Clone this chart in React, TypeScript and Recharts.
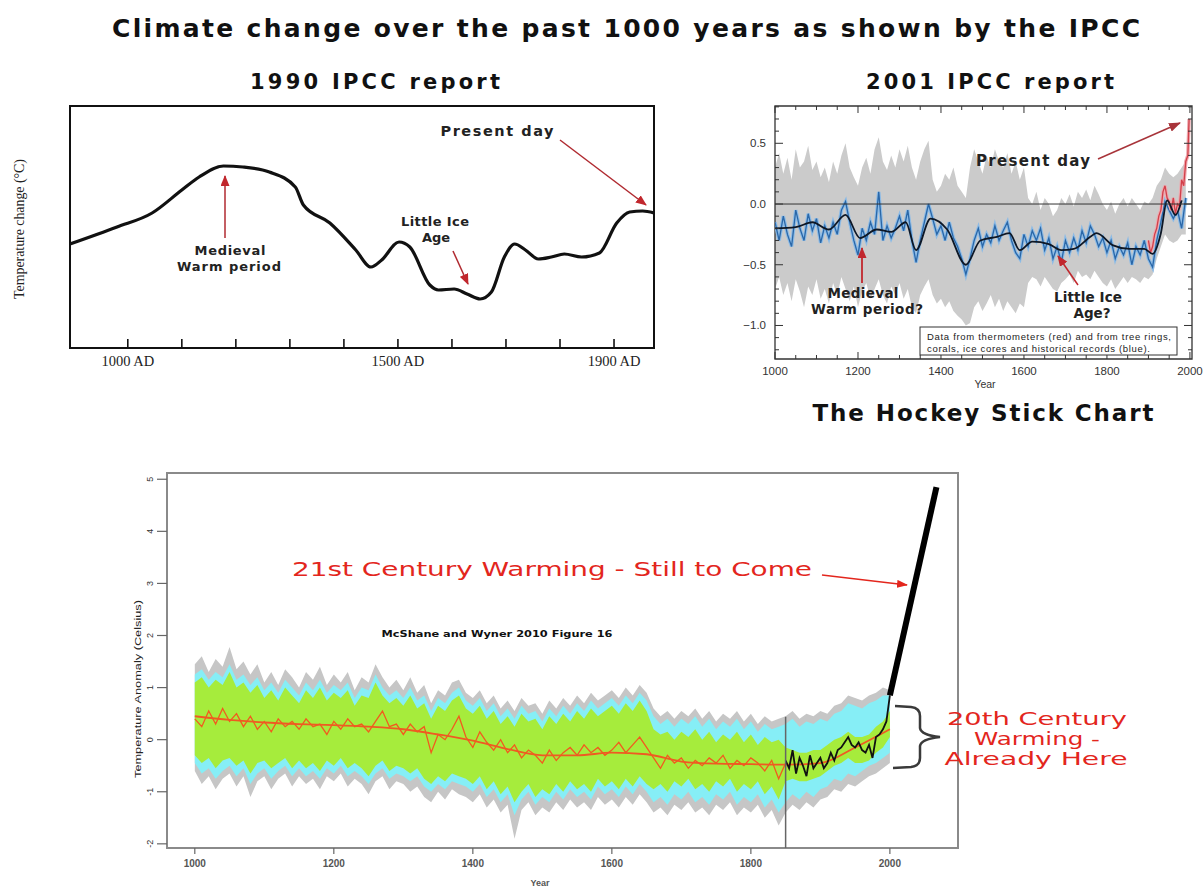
import React from 'react';
import { ComposedChart, Line, Area, XAxis, YAxis, ReferenceLine, ReferenceArea } from 'recharts';

// ---------- helpers ----------
const range = (a: number, b: number, s: number) => {
  const out: number[] = [];
  for (let v = a; v <= b + 1e-9; v += s) out.push(v);
  return out;
};
type Part = { years: number[]; cols: Record<string, number[]> };
const mergeRows = (parts: Part[], ranges: [string, string, string][]) => {
  const map = new Map<number, any>();
  parts.forEach((p) => {
    p.years.forEach((y, i) => {
      const r = map.get(y) ?? { year: y };
      Object.keys(p.cols).forEach((k) => {
        r[k] = p.cols[k][i];
      });
      map.set(y, r);
    });
  });
  const rows = [...map.values()].sort((a, b) => a.year - b.year);
  rows.forEach((r) => {
    ranges.forEach(([key, lo, hi]) => {
      if (r[lo] != null && r[hi] != null) r[key] = [r[lo], r[hi]];
    });
  });
  return rows;
};

// ---------- 1990 IPCC report (schematic) ----------
const ipcc1990Years = [893, 980, 1045, 1100, 1132, 1177, 1213, 1262, 1310, 1325, 1374, 1422, 1450, 1470, 1502, 1522, 1559, 1575, 1604, 1628, 1652, 1673, 1697, 1716, 1736, 1760, 1784, 1808, 1840, 1873, 1905, 1929, 1953, 1974];
const ipcc1990Temp = [-0.17, 0.0, 0.14, 0.37, 0.5, 0.61, 0.6, 0.55, 0.4, 0.22, 0.04, -0.23, -0.4, -0.33, -0.15, -0.2, -0.58, -0.63, -0.62, -0.67, -0.72, -0.65, -0.3, -0.17, -0.23, -0.32, -0.3, -0.27, -0.3, -0.26, 0.04, 0.15, 0.16, 0.14];
const ipcc1990Ticks = [1000, 1100, 1200, 1300, 1400, 1500, 1600, 1700, 1800, 1900];
const ipcc1990Labels = [1000, 1500, 1900];

// ---------- 2001 IPCC report (hockey stick) ----------
const hsYears = range(1000, 1990, 10);
const hsGreyHi = [
  0.30, 0.42, 0.25, 0.38, 0.20, 0.45, 0.30, 0.35, 0.48, 0.28,
  0.35, 0.22, 0.30, 0.18, 0.35, 0.25, 0.40, 0.50, 0.30, 0.22,
  0.15, 0.30, 0.38, 0.25, 0.45, 0.55, 0.35, 0.28, 0.40, 0.30,
  0.45, 0.35, 0.48, 0.30, 0.20, 0.35, 0.45, 0.52, 0.20, 0.10,
  0.15, 0.25, 0.20, 0.30, 0.15, 0.10, 0.05, 0.30, 0.45, 0.35,
  0.25, 0.40, 0.30, 0.45, 0.35, 0.30, 0.42, 0.25, 0.35, 0.20,
  0.30, 0.05, 0.00, 0.10, -0.05, 0.05, 0.00, -0.10, -0.05, 0.05,
  0.00, 0.08, -0.02, 0.10, 0.05, 0.12, 0.03, 0.15, 0.08, 0.00,
  -0.05, 0.02, -0.08, 0.00, 0.05, -0.02, 0.05, 0.00, -0.05, 0.02,
  0.00, 0.05, 0.15, 0.20, 0.30, 0.25, 0.22, 0.25, 0.30, 0.35,
];
const hsGreyLo = [
  -0.70, -0.60, -0.75, -0.65, -0.80, -0.62, -0.72, -0.85, -0.68, -0.75,
  -0.62, -0.78, -0.70, -0.82, -0.65, -0.75, -0.60, -0.70, -0.80, -0.68,
  -0.85, -0.72, -0.65, -0.78, -0.70, -0.62, -0.75, -0.82, -0.68, -0.75,
  -0.65, -0.78, -0.70, -0.85, -0.90, -0.75, -0.68, -0.62, -0.75, -0.82,
  -0.78, -0.85, -0.80, -0.88, -0.92, -0.95, -1.00, -0.98, -0.85, -0.80,
  -0.88, -0.82, -0.75, -0.85, -0.78, -0.88, -0.80, -0.85, -0.90, -0.82,
  -0.85, -0.65, -0.60, -0.62, -0.68, -0.60, -0.65, -0.70, -0.72, -0.65,
  -0.62, -0.58, -0.65, -0.55, -0.60, -0.58, -0.62, -0.55, -0.60, -0.65,
  -0.68, -0.62, -0.70, -0.65, -0.60, -0.65, -0.60, -0.62, -0.65, -0.60,
  -0.62, -0.58, -0.45, -0.35, -0.25, -0.30, -0.32, -0.30, -0.25, -0.25,
];
const hsBlue = [
  -0.15, -0.30, -0.10, -0.25, -0.35, -0.05, -0.20, -0.30, -0.08, -0.22,
  -0.12, -0.32, -0.18, -0.28, -0.15, -0.25, -0.05, 0.02, -0.15, -0.30,
  -0.42, -0.20, -0.30, -0.15, -0.25, 0.10, -0.30, -0.18, -0.28, -0.20,
  -0.10, -0.22, -0.05, -0.30, -0.48, -0.30, -0.15, 0.00, -0.12, -0.25,
  -0.18, -0.30, -0.15, -0.28, -0.35, -0.45, -0.58, -0.45, -0.30, -0.20,
  -0.35, -0.25, -0.32, -0.18, -0.30, -0.22, -0.15, -0.30, -0.40, -0.45,
  -0.25, -0.35, -0.22, -0.30, -0.20, -0.38, -0.28, -0.45, -0.35, -0.48,
  -0.30, -0.40, -0.28, -0.38, -0.22, -0.32, -0.18, -0.25, -0.35, -0.28,
  -0.40, -0.30, -0.45, -0.35, -0.42, -0.32, -0.50, -0.35, -0.42, -0.30,
  -0.45, -0.52, -0.30, -0.15, 0.02, -0.05, -0.12, -0.05, -0.20, 0.05,
];
const hsSmoothYears = [1000, 1050, 1090, 1130, 1170, 1205, 1245, 1280, 1315, 1340, 1375, 1415, 1460, 1495, 1535, 1565, 1590, 1620, 1660, 1690, 1720, 1760, 1775, 1815, 1855, 1890, 1910, 1930, 1945, 1965, 1980];
const hsSmooth = [-0.2, -0.19, -0.15, -0.21, -0.09, -0.28, -0.21, -0.23, -0.15, -0.38, -0.12, -0.21, -0.5, -0.3, -0.27, -0.24, -0.38, -0.31, -0.33, -0.38, -0.37, -0.27, -0.24, -0.34, -0.37, -0.37, -0.41, -0.24, 0.03, -0.09, 0.03];
const hsRedYears = [1900, 1905, 1910, 1915, 1920, 1925, 1930, 1935, 1940, 1945, 1950, 1955, 1960, 1965, 1970, 1975, 1980, 1985, 1990, 1995, 1998];
const hsRed = [-0.3, -0.4, -0.35, -0.25, -0.2, -0.1, -0.05, 0.1, 0.15, 0.05, 0.02, -0.05, 0.05, -0.08, 0.0, -0.02, 0.2, 0.15, 0.35, 0.4, 0.7];
const hsXTicks = [1000, 1050, 1100, 1150, 1200, 1250, 1300, 1350, 1400, 1450, 1500, 1550, 1600, 1650, 1700, 1750, 1800, 1850, 1900, 1950, 2000];
const hsYTicks = [-1.2, -1.1, -1.0, -0.9, -0.8, -0.7, -0.6, -0.5, -0.4, -0.3, -0.2, -0.1, 0.0, 0.1, 0.2, 0.3, 0.4, 0.5, 0.6, 0.7, 0.8];

// ---------- McShane and Wyner 2010 ----------
const mwYears = range(1000, 2000, 10);
const mwGreyHi = [
  1.45, 1.60, 1.30, 1.55, 1.40, 1.78, 1.35, 1.50, 1.25, 1.45,
  1.10, 1.30, 1.05, 1.35, 1.20, 1.00, 1.30, 1.15, 1.40, 1.05,
  1.25, 1.10, 1.30, 0.95, 1.20, 1.10, 1.45, 1.20, 1.00, 1.15,
  0.95, 1.20, 0.90, 1.05, 0.70, 0.95, 0.85, 1.10, 1.15, 0.90,
  0.80, 0.95, 0.70, 0.85, 0.60, 0.75, 0.55, 0.80, 0.65, 0.70,
  0.50, 0.75, 0.60, 0.80, 0.65, 0.85, 0.70, 0.90, 0.75, 0.85,
  0.95, 0.80, 1.00, 0.85, 1.05, 0.90, 0.60, 0.45, 0.55, 0.40,
  0.55, 0.45, 0.60, 0.40, 0.55, 0.35, 0.50, 0.40, 0.55, 0.35,
  0.50, 0.30, 0.45, 0.35, 0.40, 0.45, 0.55, 0.40, 0.50, 0.45,
  0.55, 0.50, 0.65, 0.70, 0.85, 0.80, 0.75, 0.85, 0.90, 1.00,
  0.95,
];
const mwGreyLo = [
  -0.60, -0.85, -0.70, -0.95, -0.75, -0.65, -0.90, -0.70, -1.10, -0.80,
  -0.70, -0.95, -0.75, -0.65, -0.90, -0.70, -0.85, -0.75, -0.95, -0.70,
  -0.80, -0.65, -0.90, -0.75, -0.85, -1.05, -0.80, -0.70, -0.95, -0.80,
  -0.85, -1.00, -0.90, -1.10, -1.20, -1.00, -1.15, -0.95, -1.05, -1.10,
  -1.20, -1.05, -1.30, -1.15, -1.40, -1.25, -1.90, -1.35, -1.20, -1.45,
  -1.30, -1.40, -1.20, -1.35, -1.15, -1.30, -1.20, -1.35, -1.10, -1.25,
  -1.15, -1.30, -1.10, -1.25, -1.05, -1.20, -1.40, -1.30, -1.45, -1.25,
  -1.35, -1.20, -1.40, -1.30, -1.45, -1.25, -1.35, -1.20, -1.45, -1.30,
  -1.40, -1.25, -1.50, -1.35, -1.65, -1.40, -1.25, -1.35, -1.20, -1.30,
  -1.15, -1.10, -0.95, -1.00, -0.85, -0.90, -0.80, -0.70, -0.65, -0.55,
  -0.45,
];
const mwCyanHi = [
  1.25, 1.35, 1.15, 1.30, 1.20, 1.45, 1.15, 1.25, 1.05, 1.20,
  0.95, 1.10, 0.90, 1.15, 1.00, 0.85, 1.10, 0.95, 1.15, 0.90,
  1.05, 0.95, 1.10, 0.80, 1.00, 0.95, 1.25, 1.00, 0.85, 0.95,
  0.80, 1.00, 0.75, 0.85, 0.55, 0.80, 0.70, 0.90, 1.00, 0.75,
  0.65, 0.80, 0.55, 0.70, 0.45, 0.60, 0.40, 0.65, 0.50, 0.55,
  0.35, 0.60, 0.45, 0.65, 0.50, 0.70, 0.55, 0.75, 0.60, 0.70,
  0.80, 0.65, 0.85, 0.70, 0.90, 0.75, 0.45, 0.30, 0.40, 0.25,
  0.40, 0.30, 0.45, 0.25, 0.40, 0.20, 0.35, 0.25, 0.40, 0.20,
  0.35, 0.15, 0.30, 0.20, 0.25, 0.30, 0.40, 0.25, 0.35, 0.30,
  0.40, 0.35, 0.50, 0.55, 0.70, 0.65, 0.60, 0.70, 0.75, 0.85,
  0.85,
];
const mwCyanLo = [
  -0.45, -0.65, -0.55, -0.75, -0.60, -0.50, -0.70, -0.55, -0.85, -0.65,
  -0.55, -0.75, -0.60, -0.50, -0.70, -0.55, -0.70, -0.60, -0.75, -0.55,
  -0.65, -0.50, -0.70, -0.60, -0.70, -0.85, -0.65, -0.55, -0.75, -0.65,
  -0.70, -0.80, -0.70, -0.90, -1.00, -0.85, -0.95, -0.80, -0.85, -0.90,
  -1.00, -0.85, -1.10, -0.95, -1.20, -1.05, -1.45, -1.15, -1.00, -1.25,
  -1.10, -1.20, -1.00, -1.15, -0.95, -1.10, -1.00, -1.15, -0.90, -1.05,
  -0.95, -1.10, -0.90, -1.05, -0.85, -1.00, -1.20, -1.10, -1.25, -1.05,
  -1.15, -1.00, -1.20, -1.10, -1.25, -1.05, -1.15, -1.00, -1.25, -1.10,
  -1.20, -1.05, -1.30, -1.15, -1.40, -1.20, -1.05, -1.15, -1.00, -1.10,
  -0.95, -0.90, -0.75, -0.80, -0.65, -0.70, -0.60, -0.50, -0.45, -0.35,
  -0.25,
];
const mwGreenHi = [
  1.10, 1.20, 1.00, 1.15, 1.05, 1.30, 1.00, 1.10, 0.90, 1.05,
  0.80, 0.95, 0.75, 1.00, 0.85, 0.70, 0.95, 0.80, 1.00, 0.75,
  0.90, 0.80, 0.95, 0.65, 0.85, 0.80, 1.10, 0.85, 0.70, 0.80,
  0.65, 0.85, 0.60, 0.70, 0.40, 0.65, 0.55, 0.75, 0.85, 0.60,
  0.50, 0.65, 0.40, 0.55, 0.30, 0.45, 0.25, 0.50, 0.35, 0.40,
  0.20, 0.45, 0.30, 0.50, 0.35, 0.55, 0.40, 0.60, 0.45, 0.55,
  0.65, 0.50, 0.70, 0.55, 0.75, 0.55, 0.20, 0.10, 0.15, 0.00,
  0.15, 0.05, 0.20, 0.00, 0.15, -0.05, 0.10, 0.00, 0.15, -0.05,
  0.10, -0.10, 0.05, -0.05, 0.00, -0.15, -0.20, -0.25, -0.25, -0.20,
  -0.20, -0.10, 0.00, 0.05, 0.15, 0.05, 0.05, 0.10, 0.25, 0.35,
  0.55,
];
const mwGreenLo = [
  -0.30, -0.45, -0.35, -0.55, -0.40, -0.35, -0.50, -0.40, -0.65, -0.45,
  -0.40, -0.55, -0.45, -0.35, -0.55, -0.40, -0.55, -0.45, -0.60, -0.40,
  -0.50, -0.35, -0.55, -0.45, -0.55, -0.70, -0.50, -0.40, -0.60, -0.50,
  -0.55, -0.65, -0.55, -0.75, -0.85, -0.70, -0.80, -0.65, -0.70, -0.75,
  -0.85, -0.70, -0.95, -0.80, -1.05, -0.90, -1.20, -1.00, -0.85, -1.10,
  -0.95, -1.05, -0.85, -1.00, -0.80, -0.95, -0.85, -1.00, -0.75, -0.90,
  -0.80, -0.95, -0.75, -0.90, -0.70, -0.85, -0.95, -0.85, -1.00, -0.80,
  -0.90, -0.75, -0.95, -0.85, -1.00, -0.80, -0.90, -0.75, -1.00, -0.85,
  -0.95, -0.80, -1.05, -0.90, -1.15, -0.80, -0.75, -0.80, -0.80, -0.75,
  -0.70, -0.60, -0.50, -0.45, -0.35, -0.45, -0.45, -0.40, -0.25, -0.15,
  0.05,
];
const mwOrangeYears = range(1000, 1850, 10);
const mwOrange = [
  0.40, 0.25, 0.55, 0.30, 0.60, 0.35, 0.50, 0.25, 0.45, 0.20,
  0.35, 0.15, 0.40, 0.25, 0.35, 0.20, 0.40, 0.25, 0.30, 0.10,
  0.35, 0.20, 0.40, 0.25, 0.30, 0.15, 0.35, 0.55, 0.25, 0.30,
  0.10, 0.30, 0.15, 0.25, -0.25, 0.10, 0.00, 0.20, 0.45, 0.05,
  -0.15, 0.15, -0.05, -0.20, 0.00, -0.25, -0.10, -0.35, -0.20, -0.30,
  -0.45, -0.20, -0.40, -0.25, -0.15, -0.30, -0.10, -0.25, -0.15, -0.30,
  -0.20, -0.05, -0.25, -0.10, 0.05, -0.15, -0.35, -0.55, -0.30, -0.45,
  -0.35, -0.55, -0.40, -0.50, -0.35, -0.45, -0.30, -0.55, -0.40, -0.50,
  -0.35, -0.45, -0.60, -0.40, -0.75, -0.45,
];
const mwSmoothYears = [1000, 1050, 1100, 1150, 1200, 1250, 1300, 1350, 1400, 1450, 1500, 1550, 1600, 1650, 1700, 1750, 1800, 1850, 1900, 1950, 2000];
const mwSmooth = [0.45, 0.38, 0.33, 0.3, 0.28, 0.25, 0.2, 0.1, -0.02, -0.18, -0.3, -0.3, -0.25, -0.28, -0.42, -0.46, -0.47, -0.48, -0.45, -0.15, 0.2];
const mwBlackYears = range(1850, 2000, 5);
const mwBlack = [-0.4, -0.55, -0.2, -0.65, -0.35, -0.5, -0.7, -0.3, -0.55, -0.45, -0.35, -0.55, -0.45, -0.25, -0.4, -0.2, -0.15, -0.05, 0.05, -0.1, -0.15, -0.05, -0.2, -0.25, -0.1, -0.35, 0.05, 0.1, 0.2, 0.35, 0.85];
const mwProjYears = [2000, 2067];
const mwProj = [0.85, 4.85];
const mwXTicks = [1000, 1200, 1400, 1600, 1800, 2000];
const mwYTicks = [-2, -1, 0, 1, 2, 3, 4, 5];

// ---------- merged tables ----------
const ipcc1990Data = mergeRows([{ years: ipcc1990Years, cols: { temp: ipcc1990Temp } }], []);
const hsData = mergeRows(
  [
    { years: hsYears, cols: { gLo: hsGreyLo, gHi: hsGreyHi, blue: hsBlue } },
    { years: hsSmoothYears, cols: { smooth: hsSmooth } },
    { years: hsRedYears, cols: { red: hsRed } },
  ],
  [['grey', 'gLo', 'gHi']]
);
const mwData = mergeRows(
  [
    { years: mwYears, cols: { gLo: mwGreyLo, gHi: mwGreyHi, cLo: mwCyanLo, cHi: mwCyanHi, nLo: mwGreenLo, nHi: mwGreenHi } },
    { years: mwOrangeYears, cols: { orange: mwOrange } },
    { years: mwSmoothYears, cols: { smooth: mwSmooth } },
    { years: mwBlackYears, cols: { black: mwBlack } },
    { years: mwProjYears, cols: { proj: mwProj } },
  ],
  [
    ['grey', 'gLo', 'gHi'],
    ['cyan', 'cLo', 'cHi'],
    ['green', 'nLo', 'nHi'],
  ]
);

const SANS = 'Liberation Sans, Arial, sans-serif';
const SERIF = 'Liberation Serif, Times New Roman, serif';
const WIDE = 'DejaVu Sans, Verdana, sans-serif';

// ---------- tick renderers ----------
const tick1990 = (p: any) => {
  const v = p.payload.value;
  return (
    <g>
      <line x1={p.x} x2={p.x} y1={348} y2={339} stroke="#111" strokeWidth={1.6} />
      {ipcc1990Labels.includes(v) && (
        <text x={p.x} y={361} textAnchor="middle" dominantBaseline="central" fontFamily={SERIF} fontSize={14.5} fill="#222">
          {v} AD
        </text>
      )}
    </g>
  );
};
const hsXTick = (p: any) => {
  const v = p.payload.value;
  const major = v % 200 === 0;
  return (
    <g>
      <line x1={p.x} x2={p.x} y1={359} y2={major ? 352 : 355} stroke="#333" strokeWidth={1} />
      <line x1={p.x} x2={p.x} y1={106} y2={major ? 113 : 110} stroke="#333" strokeWidth={1} />
      {major && (
        <text x={p.x} y={371} textAnchor="middle" dominantBaseline="central" fontFamily={SANS} fontSize={11.5} fill="#333">
          {v}
        </text>
      )}
    </g>
  );
};
const hsYTick = (p: any) => {
  const v = p.payload.value;
  const major = Math.abs(v * 2 - Math.round(v * 2)) < 1e-6;
  const label = (v < 0 ? '\u2212' : '') + Math.abs(v).toFixed(1);
  return (
    <g>
      <line x1={775} x2={major ? 783 : 779} y1={p.y} y2={p.y} stroke="#333" strokeWidth={1} />
      <line x1={1192} x2={major ? 1184 : 1188} y1={p.y} y2={p.y} stroke="#333" strokeWidth={1} />
      {major && (
        <text x={766} y={p.y} textAnchor="end" dominantBaseline="central" fontFamily={SANS} fontSize={11.5} fill="#333">
          {label}
        </text>
      )}
    </g>
  );
};
const mwXTick = (p: any) => (
  <g>
    <line x1={p.x} x2={p.x} y1={848} y2={854} stroke="#666" strokeWidth={1.2} />
    <text x={p.x} y={863} textAnchor="middle" dominantBaseline="central" fontFamily={SANS} fontWeight={700} fontSize={10} fill="#555">
      {p.payload.value}
    </text>
  </g>
);
const mwYTick = (p: any) => (
  <g>
    <line x1={157} x2={167} y1={p.y} y2={p.y} stroke="#666" strokeWidth={1.2} />
    <text transform={`translate(150, ${p.y}) rotate(-90)`} textAnchor="middle" dominantBaseline="central" fontFamily={SANS} fontSize={9} fill="#333">
      {p.payload.value}
    </text>
  </g>
);

const abs: React.CSSProperties = { position: 'absolute', left: 0, top: 0 };

const Txt = (props: any) => {
  const { children, ...rest } = props;
  return (
    <text dominantBaseline="central" textAnchor="middle" {...rest}>
      {children}
    </text>
  );
};

export default function App() {
  return (
    <div style={{ position: 'absolute', left: 0, top: 0, width: 1204, height: 889, background: '#fff', overflow: 'hidden' }}>
      {/* 1990 IPCC report */}
      <div style={abs}>
        <ComposedChart width={1204} height={889} data={ipcc1990Data} margin={{ top: 106, right: 550, bottom: 511, left: 70 }}>
          <XAxis dataKey="year" type="number" domain={[893, 1974]} ticks={ipcc1990Ticks} allowDataOverflow height={30} axisLine={false} tickLine={false} tick={tick1990} />
          <YAxis type="number" domain={[-1.21, 1.21]} allowDataOverflow hide width={0} />
          <Line dataKey="temp" type="monotone" stroke="#111" strokeWidth={3.2} dot={false} activeDot={false} isAnimationActive={false} />
          <ReferenceArea x1={893} x2={1974} y1={-1.21} y2={1.21} fill="none" stroke="#111" strokeWidth={2} ifOverflow="visible" />
        </ComposedChart>
      </div>

      {/* 2001 IPCC report */}
      <div style={abs}>
        <ComposedChart width={1204} height={889} data={hsData} margin={{ top: 106, right: 12, bottom: 500, left: 735 }}>
          <XAxis dataKey="year" type="number" domain={[1000, 2005]} ticks={hsXTicks} allowDataOverflow height={30} axisLine={false} tickLine={false} tick={hsXTick} interval={0} />
          <YAxis type="number" domain={[-1.276, 0.807]} ticks={hsYTicks} allowDataOverflow width={40} axisLine={false} tickLine={false} tick={hsYTick} interval={0} />
          <Area dataKey="grey" type="linear" fill="#cbcbcb" fillOpacity={1} stroke="none" connectNulls dot={false} activeDot={false} isAnimationActive={false} />
          <Line dataKey="blue" type="linear" stroke="#8cbbe6" strokeWidth={3.5} connectNulls dot={false} activeDot={false} isAnimationActive={false} />
          <Line dataKey="blue" type="linear" stroke="#2a67a8" strokeWidth={1.3} connectNulls dot={false} activeDot={false} isAnimationActive={false} />
          <Line dataKey="red" type="linear" stroke="#eeaab0" strokeWidth={3.5} connectNulls dot={false} activeDot={false} isAnimationActive={false} />
          <Line dataKey="red" type="linear" stroke="#d2404a" strokeWidth={1.3} connectNulls dot={false} activeDot={false} isAnimationActive={false} />
          <Line dataKey="smooth" type="monotone" stroke="#0d1726" strokeWidth={1.8} connectNulls dot={false} activeDot={false} isAnimationActive={false} />
          <ReferenceLine y={0} stroke="#333" strokeWidth={1} />
          <ReferenceArea x1={1000} x2={2005} y1={-1.276} y2={0.807} fill="none" stroke="#333" strokeWidth={1.3} ifOverflow="visible" />
        </ComposedChart>
      </div>

      {/* McShane and Wyner 2010 */}
      <div style={abs}>
        <ComposedChart width={1204} height={889} data={mwData} margin={{ top: 473, right: 246, bottom: 11, left: 127 }}>
          <XAxis dataKey="year" type="number" domain={[960, 2098]} ticks={mwXTicks} allowDataOverflow height={30} axisLine={false} tickLine={false} tick={mwXTick} interval={0} />
          <YAxis type="number" domain={[-2.08, 5.12]} ticks={mwYTicks} allowDataOverflow width={40} axisLine={false} tickLine={false} tick={mwYTick} interval={0} />
          <Area dataKey="grey" type="linear" fill="#c6c6c6" fillOpacity={1} stroke="none" connectNulls dot={false} activeDot={false} isAnimationActive={false} />
          <Area dataKey="cyan" type="linear" fill="#86eef6" fillOpacity={1} stroke="none" connectNulls dot={false} activeDot={false} isAnimationActive={false} />
          <Area dataKey="green" type="linear" fill="#a6ec3c" fillOpacity={1} stroke="none" connectNulls dot={false} activeDot={false} isAnimationActive={false} />
          <Line dataKey="orange" type="linear" stroke="#f25a1e" strokeWidth={1.3} connectNulls dot={false} activeDot={false} isAnimationActive={false} />
          <Line dataKey="smooth" type="monotone" stroke="#ef5a22" strokeWidth={1.8} connectNulls dot={false} activeDot={false} isAnimationActive={false} />
          <Line dataKey="black" type="linear" stroke="#111" strokeWidth={1.8} connectNulls dot={false} activeDot={false} isAnimationActive={false} />
          <Line dataKey="proj" type="linear" stroke="#000" strokeWidth={6} connectNulls dot={false} activeDot={false} isAnimationActive={false} />
          <ReferenceLine segment={[{ x: 1850, y: -2.08 }, { x: 1850, y: 0.44 }]} stroke="#666" strokeWidth={1.5} />
          <ReferenceArea x1={960} x2={2098} y1={-2.08} y2={5.12} fill="none" stroke="#8a8a8a" strokeWidth={2} ifOverflow="visible" />
        </ComposedChart>
      </div>

      {/* Titles, annotations */}
      <svg style={abs} width={1204} height={889}>
        <defs>
          <marker id="ahDark" markerWidth="11" markerHeight="9" refX="10" refY="4.5" orient="auto" markerUnits="userSpaceOnUse">
            <path d="M0,0 L11,4.5 L0,9 z" fill="#c1272d" />
          </marker>
          <marker id="ahBrown" markerWidth="12" markerHeight="9" refX="11" refY="4.5" orient="auto" markerUnits="userSpaceOnUse">
            <path d="M0,0 L12,4.5 L0,9 z" fill="#a8343a" />
          </marker>
          <marker id="ahRed" markerWidth="11" markerHeight="8" refX="10" refY="4" orient="auto" markerUnits="userSpaceOnUse">
            <path d="M0,0 L11,4 L0,8 z" fill="#e3261d" />
          </marker>
        </defs>

        <Txt x={626} y={28} fontFamily={WIDE} fontWeight={700} fontSize={25} fill="#111" textLength={1028} lengthAdjust="spacing">
          Climate change over the past 1000 years as shown by the IPCC
        </Txt>
        <Txt x={375} y={82} fontFamily={WIDE} fontWeight={700} fontSize={21} fill="#111" textLength={250} lengthAdjust="spacing">
          1990 IPCC report
        </Txt>
        <Txt x={990} y={82} fontFamily={WIDE} fontWeight={700} fontSize={21} fill="#111" textLength={248} lengthAdjust="spacing">
          2001 IPCC report
        </Txt>
        <Txt x={983} y={413} fontFamily={WIDE} fontWeight={700} fontSize={23} fill="#111" textLength={341} lengthAdjust="spacing">
          The Hockey Stick Chart
        </Txt>

        {/* 1990 annotations */}
        <Txt transform="translate(19, 229) rotate(-90)" x={0} y={0} fontFamily={SERIF} fontSize={14} fill="#222" textLength={140} lengthAdjust="spacing">
          Temperature change (°C)
        </Txt>
        <Txt x={497} y={131} fontFamily={WIDE} fontWeight={700} fontSize={14.5} fill="#222" textLength={113} lengthAdjust="spacing">
          Present day
        </Txt>
        <line x1={560} y1={140} x2={646} y2={205} stroke="#b02a30" strokeWidth={1.5} markerEnd="url(#ahDark)" />
        <Txt x={230} y={250} fontFamily={WIDE} fontWeight={700} fontSize={13} fill="#222" textLength={71} lengthAdjust="spacing">
          Medieval
        </Txt>
        <Txt x={229} y={266} fontFamily={WIDE} fontWeight={700} fontSize={13} fill="#222" textLength={104} lengthAdjust="spacing">
          Warm period
        </Txt>
        <line x1={225} y1={238} x2={225} y2={176} stroke="#b02a30" strokeWidth={1.5} markerEnd="url(#ahDark)" />
        <Txt x={435} y={221} fontFamily={WIDE} fontWeight={700} fontSize={13} fill="#222" textLength={68} lengthAdjust="spacing">
          Little Ice
        </Txt>
        <Txt x={436} y={237} fontFamily={WIDE} fontWeight={700} fontSize={13} fill="#222">
          Age
        </Txt>
        <line x1={453} y1={251} x2={468} y2={284} stroke="#b02a30" strokeWidth={1.5} markerEnd="url(#ahDark)" />

        {/* 2001 annotations */}
        <Txt x={1033} y={161} fontFamily={WIDE} fontWeight={700} fontSize={15} fill="#222" textLength={114} lengthAdjust="spacing">
          Present day
        </Txt>
        <line x1={1098} y1={159} x2={1180} y2={123} stroke="#a8343a" strokeWidth={1.5} markerEnd="url(#ahBrown)" />
        <Txt x={863} y={293} fontFamily={WIDE} fontWeight={700} fontSize={13.5} fill="#222" textLength={71} lengthAdjust="spacing">
          Medieval
        </Txt>
        <Txt x={867} y={309} fontFamily={WIDE} fontWeight={700} fontSize={13.5} fill="#222" textLength={112} lengthAdjust="spacing">
          Warm period?
        </Txt>
        <line x1={862} y1={283} x2={862} y2={248} stroke="#c1272d" strokeWidth={1.8} markerEnd="url(#ahDark)" />
        <Txt x={1088} y={297} fontFamily={WIDE} fontWeight={700} fontSize={13.5} fill="#222" textLength={68} lengthAdjust="spacing">
          Little Ice
        </Txt>
        <Txt x={1092} y={313} fontFamily={WIDE} fontWeight={700} fontSize={13.5} fill="#222" textLength={37} lengthAdjust="spacing">
          Age?
        </Txt>
        <line x1={1078} y1={285} x2={1058} y2={256} stroke="#c1272d" strokeWidth={1.5} markerEnd="url(#ahDark)" />
        <rect x={920} y={327} width={257} height={28} fill="#fff" stroke="#333" strokeWidth={1} />
        <text x={927} y={336} dominantBaseline="central" fontFamily={SANS} fontSize={9.5} fill="#222" textLength={244} lengthAdjust="spacing">
          Data from thermometers (red) and from tree rings,
        </text>
        <text x={927} y={348} dominantBaseline="central" fontFamily={SANS} fontSize={9.5} fill="#222" textLength={223} lengthAdjust="spacing">
          corals, ice cores and historical records (blue).
        </text>
        <Txt x={985} y={384} fontFamily={SANS} fontSize={10.5} fill="#333">
          Year
        </Txt>

        {/* McShane & Wyner annotations */}
        <Txt x={552} y={569} fontFamily={WIDE} fontSize={20} fill="#e3261d" textLength={520} lengthAdjust="spacingAndGlyphs">
          21st Century Warming - Still to Come
        </Txt>
        <line x1={822} y1={575} x2={907} y2={585} stroke="#e3261d" strokeWidth={1.6} markerEnd="url(#ahRed)" />
        <Txt x={497} y={634} fontFamily={WIDE} fontWeight={700} fontSize={8.5} fill="#111" textLength={231} lengthAdjust="spacingAndGlyphs">
          McShane and Wyner 2010 Figure 16
        </Txt>
        <path d="M 895 706 L 911 707 Q 920 708 920 716 L 920 728 Q 921 735 940 737 Q 921 739 920 746 L 920 758 Q 920 766 911 767 L 893 768" fill="none" stroke="#3a3a3a" strokeWidth={2.5} />
        <Txt x={1037} y={719} fontFamily={WIDE} fontSize={17.5} fill="#e3261d" textLength={180} lengthAdjust="spacingAndGlyphs">
          20th Century
        </Txt>
        <Txt x={1037} y={739} fontFamily={WIDE} fontSize={17.5} fill="#e3261d" textLength={126} lengthAdjust="spacingAndGlyphs">
          Warming -
        </Txt>
        <Txt x={1036} y={759} fontFamily={WIDE} fontSize={17.5} fill="#e3261d" textLength={183} lengthAdjust="spacingAndGlyphs">
          Already Here
        </Txt>
        <Txt transform="translate(137, 689) rotate(-90)" x={0} y={0} fontFamily={SANS} fontSize={9.5} fill="#222" textLength={178} lengthAdjust="spacingAndGlyphs">
          Temperature Anomaly (Celsius)
        </Txt>
        <Txt x={540} y={883} fontFamily={SANS} fontWeight={700} fontSize={9} fill="#555">
          Year
        </Txt>
      </svg>
    </div>
  );
}
